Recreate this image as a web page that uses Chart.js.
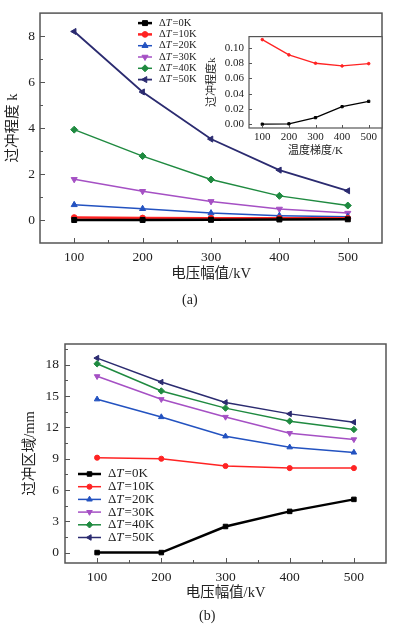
<!DOCTYPE html>
<html lang="zh">
<head>
<meta charset="UTF-8">
<title>过冲程度与过冲区域</title>
<script src="https://cdn.jsdelivr.net/npm/chart.js"></script>
<style>
  body { margin: 0; background: #fff; }
  #wrap { position: relative; width: 393px; height: 625px; overflow: hidden; }
  canvas { position: absolute; }
  .cap { position: absolute; font: 14px "Liberation Serif", "Noto Sans CJK SC", serif; color: #222; }
</style>
</head>
<body>
<div id="wrap">
  <canvas id="chartA" width="393" height="310" style="left:0;top:0"></canvas>
  <canvas id="inset" width="193" height="140" style="left:200px;top:25px"></canvas>
  <canvas id="chartB" width="393" height="305" style="left:0;top:320px"></canvas>
  <div class="cap" style="left:182px;top:292px">(a)</div>
  <div class="cap" style="left:199px;top:608px">(b)</div>
</div>
<script>
// 电压幅值 (kV)
const voltage = [100, 200, 300, 400, 500];
const tempLabels = ['0K', '10K', '20K', '30K', '40K', '50K'];

// (a) 过冲程度 k
const k0  = [0.000, 0.0005, 0.0086, 0.023, 0.030];
const k10 = [0.111, 0.091, 0.080, 0.0765, 0.0795];
const k20 = [0.66, 0.49, 0.30, 0.19, 0.14];
const k30 = [1.77, 1.25, 0.81, 0.48, 0.30];
const k40 = [3.93, 2.78, 1.76, 1.05, 0.63];
const k50 = [8.2, 5.57, 3.52, 2.17, 1.27];

// (b) 过冲区域 (mm)
const z0  = [0.0, 0.0, 2.5, 3.95, 5.1];
const z10 = [9.1, 9.0, 8.3, 8.1, 8.1];
const z20 = [14.7, 13.0, 11.15, 10.1, 9.6];
const z30 = [16.9, 14.7, 13.0, 11.45, 10.85];
const z40 = [18.1, 15.5, 13.85, 12.6, 11.8];
const z50 = [18.65, 16.35, 14.4, 13.3, 12.5];

// 刻度
const xTicks = [100, 200, 300, 400, 500];
const xMinor = [150, 250, 350, 450];
const yTicksA = [0, 2, 4, 6, 8];
const yMinorA = [1, 3, 5, 7];
const yTicksInset = [0, 0.02, 0.04, 0.06, 0.08, 0.10];
const yTicksB = [0, 3, 6, 9, 12, 15, 18];
const yMinorB = [1.5, 4.5, 7.5, 10.5, 13.5, 16.5, 19.5];

const colors = ['#000000', '#ff2323', '#2352c0', '#a550c4', '#1f8a40', '#2b2b70'];
const pointStyles = ['rect', 'circle', 'triangle', 'triangle', 'rectRot', 'triangle'];
const rotations = [0, 0, 0, 180, 0, -90];

const SERIF = '"Liberation Serif", "Noto Sans CJK SC", serif';

function makeSets(series, widths, radius) {
  return series.map((d, i) => ({
    label: tempLabels[i],
    data: d.map((v, j) => ({ x: voltage[j], y: v })),
    borderColor: colors[i],
    backgroundColor: colors[i],
    borderWidth: widths[i],
    pointStyle: pointStyles[i],
    pointRotation: rotations[i],
    // circles look bigger than the other markers at the same radius
    pointRadius: pointStyles[i] === 'circle' ? radius * 0.8 : radius,
    pointBorderWidth: 1,
    tension: 0
  }));
}

// 边框 + 向内刻度
const frame = {
  id: 'frame',
  beforeDatasetsDraw(chart, args, o) {
    if (!o.fill) return;
    const a = chart.chartArea;
    chart.ctx.save();
    chart.ctx.fillStyle = o.fill;
    chart.ctx.fillRect(a.left, a.top, a.width, a.height);
    chart.ctx.restore();
  },
  afterDraw(chart, args, o) {
    const { ctx, chartArea: a, scales: { x, y } } = chart;
    ctx.save();
    ctx.strokeStyle = o.color;
    ctx.lineWidth = o.width;
    ctx.strokeRect(a.left, a.top, a.width, a.height);
    ctx.lineWidth = 1;
    ctx.beginPath();
    const tx = (vals, len) => vals.forEach(v => {
      const p = Math.round(x.getPixelForValue(v)) + 0.5;
      ctx.moveTo(p, a.bottom); ctx.lineTo(p, a.bottom - len);
    });
    const ty = (vals, len) => vals.forEach(v => {
      const p = Math.round(y.getPixelForValue(v)) + 0.5;
      ctx.moveTo(a.left, p); ctx.lineTo(a.left + len, p);
    });
    tx(x.ticks.map(t => t.value), o.major);
    ty(y.ticks.map(t => t.value), o.major);
    tx(o.minorX || [], o.minor);
    ty(o.minorY || [], o.minor);
    ctx.stroke();
    ctx.restore();
  }
};

// 线+标记 图例
const lineLegend = {
  id: 'lineLegend',
  afterDraw(chart, args, o) {
    const { ctx, chartArea: a } = chart;
    ctx.save();
    chart.data.datasets.forEach((ds, i) => {
      const x0 = a.left + o.left;
      const y = a.top + o.top + i * o.rowH;
      ctx.strokeStyle = ds.borderColor;
      ctx.fillStyle = ds.backgroundColor;
      ctx.lineWidth = ds.borderWidth;
      ctx.beginPath();
      ctx.moveTo(x0, y); ctx.lineTo(x0 + o.lineW, y);
      ctx.stroke();
      ctx.lineWidth = 1;
      Chart.helpers.drawPoint(ctx, {
        pointStyle: ds.pointStyle, rotation: ds.pointRotation,
        radius: ds.pointRadius, borderWidth: 1
      }, x0 + o.lineW / 2, y);
      ctx.fillStyle = '#222';
      ctx.textBaseline = 'middle';
      let tx = x0 + o.lineW + o.gap;
      ctx.font = `${o.size}px ${SERIF}`;
      ctx.fillText('Δ', tx, y); tx += ctx.measureText('Δ').width;
      ctx.font = `italic ${o.size}px ${SERIF}`;
      ctx.fillText('T', tx, y); tx += ctx.measureText('T').width;
      ctx.font = `${o.size}px ${SERIF}`;
      ctx.fillText('=' + ds.label, tx + 1, y);
    });
    ctx.restore();
  }
};

function axes(opt) {
  return {
    x: {
      type: 'linear', min: 50, max: 550,
      afterBuildTicks: s => { s.ticks = xTicks.map(v => ({ value: v })); },
      afterFit: s => { s.height = opt.xH; },
      grid: { display: false, drawTicks: false },
      border: { display: false },
      ticks: { color: '#222', padding: opt.xPad, font: { family: SERIF, size: opt.tick } },
      title: { display: true, text: opt.xTitle, color: '#222', padding: 0,
               font: { family: SERIF, size: opt.title } }
    },
    y: {
      type: 'linear', min: opt.yMin, max: opt.yMax,
      afterBuildTicks: s => { s.ticks = opt.yTicks.map(v => ({ value: v })); },
      afterFit: s => { s.width = opt.yW; },
      grid: { display: false, drawTicks: false },
      border: { display: false },
      ticks: { color: '#222', padding: opt.yPad, font: { family: SERIF, size: opt.tick },
               callback: opt.yFmt || (v => v) },
      title: { display: true, text: opt.yTitle, color: '#222',
               padding: { top: opt.yTitlePad, bottom: 0 },
               font: { family: SERIF, size: opt.title } }
    }
  };
}

Chart.defaults.animation = false;

// (a)
new Chart(document.getElementById('chartA'), {
  type: 'line',
  data: { datasets: makeSets([k0, k10, k20, k30, k40, k50], [2.5, 2.5, 1.5, 1.5, 1.5, 1.8], 3.5) },
  options: {
    responsive: false,
    layout: { padding: { left: 0, top: 13, right: 11, bottom: 27 } },
    scales: axes({ xH: 40, xPad: 6, tick: 13.5, title: 14.5, xTitle: '电压幅值/kV',
                   yMin: -1, yMax: 9, yTicks: yTicksA, yW: 40, yPad: 5,
                   yTitle: '过冲程度 k', yTitlePad: 4 }),
    plugins: {
      legend: { display: false }, tooltip: { enabled: false },
      frame: { color: '#555', width: 1.5, major: 5, minor: 3, minorX: xMinor, minorY: yMinorA },
      lineLegend: { left: 98, top: 10, rowH: 11.3, lineW: 14, gap: 7, size: 10.5 }
    }
  },
  plugins: [frame, lineLegend]
});

// 插图
new Chart(document.getElementById('inset'), {
  type: 'line',
  data: { datasets: makeSets([k0, k10], [1.3, 1.3], 1.6) },
  options: {
    responsive: false,
    layout: { padding: { left: 0, top: 8, right: 11, bottom: 7.4 } },
    scales: axes({ xH: 29.6, xPad: 3, tick: 11, title: 11, xTitle: '温度梯度/K',
                   yMin: -0.005, yMax: 0.115, yTicks: yTicksInset, yW: 49, yPad: 5,
                   yFmt: v => v.toFixed(2),
                   yTitle: '过冲程度k', yTitlePad: 6 }),
    plugins: {
      legend: { display: false }, tooltip: { enabled: false },
      frame: { color: '#555', width: 1.2, major: 3, minor: 2, fill: '#fff' }
    }
  },
  plugins: [frame]
});

// (b)
new Chart(document.getElementById('chartB'), {
  type: 'line',
  data: { datasets: makeSets([z0, z10, z20, z30, z40, z50], [2.5, 1.5, 1.5, 1.5, 1.5, 1.5], 3.2) },
  options: {
    responsive: false,
    layout: { padding: { left: 0, top: 24, right: 7, bottom: 23.6 } },
    scales: axes({ xH: 38.4, xPad: 6, tick: 13.5, title: 14.5, xTitle: '电压幅值/kV',
                   yMin: -1, yMax: 20, yTicks: yTicksB, yW: 65, yPad: 6,
                   yTitle: '过冲区域/mm', yTitlePad: 21 }),
    plugins: {
      legend: { display: false }, tooltip: { enabled: false },
      frame: { color: '#555', width: 1.5, major: 5, minor: 3, minorX: xMinor, minorY: yMinorB },
      lineLegend: { left: 13, top: 130, rowH: 12.7, lineW: 23, gap: 7, size: 13 }
    }
  },
  plugins: [frame, lineLegend]
});
</script>
</body>
</html>
